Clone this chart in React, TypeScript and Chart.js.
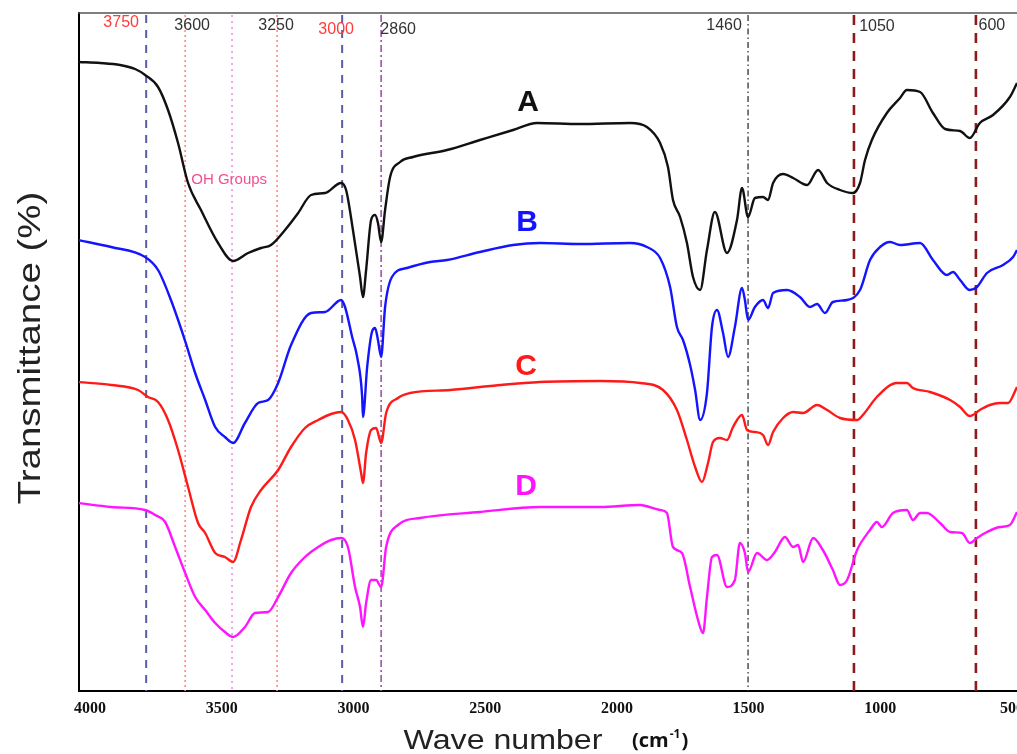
import React, { useEffect, useRef } from 'react';
import { Chart, registerables } from 'chart.js';
Chart.register(...registerables);

// ---- Data (wavenumber in cm-1, transmittance in arbitrary offset units) ----
const wnA = [4042,3962,3886,3829,3791,3742,3704,3666,3628,3579,3514,3457,3400,3351,3313,3260,3210,3161,3108,3047,3028,3002,2975,2964,2952,2933,2918,2907,2895,2880,2861,2823,2774,2645,2520,2394,2303,2140,1950,1886,1836,1806,1787,1760,1734,1711,1684,1658,1628,1582,1544,1525,1502,1476,1445,1426,1407,1369,1331,1278,1236,1202,1153,1104,1077,1058,1032,975,925,899,849,800,754,697,660,622,572,508,481];
const tA = [629,628,626,622,616,604,581,548,508,481,448,430,438,443,446,461,478,496,498,508,501,461,414,394,421,471,476,468,449,481,514,529,534,541,551,561,568,567,568,564,548,524,491,474,448,414,401,441,479,438,471,503,474,493,494,491,508,517,513,506,521,508,501,498,508,531,551,578,593,601,599,578,562,560,553,568,576,594,608];

const wnB = [4046,3920,3791,3742,3693,3639,3601,3563,3525,3488,3457,3412,3362,3324,3286,3237,3161,3108,3047,3032,3005,2986,2967,2964,2948,2930,2918,2907,2895,2880,2854,2797,2709,2645,2520,2394,2292,2140,1950,1886,1836,1798,1772,1749,1722,1703,1684,1658,1639,1620,1597,1578,1552,1525,1514,1502,1476,1445,1426,1407,1354,1305,1267,1240,1210,1180,1126,1077,1039,1001,963,925,849,800,747,724,697,660,633,595,534,496,481];
const tB = [451,444,434,421,391,350,318,291,264,254,248,268,288,291,308,346,378,379,391,384,354,334,294,274,324,359,363,351,334,384,414,423,429,431,439,446,448,447,448,444,433,404,364,351,326,301,271,298,364,381,358,334,364,403,391,371,384,391,383,398,401,394,384,387,378,389,391,401,431,444,449,446,448,431,416,419,411,401,404,418,426,434,441];

const wnC = [4046,3920,3818,3780,3742,3704,3666,3628,3590,3563,3525,3488,3457,3427,3389,3351,3286,3237,3184,3134,3085,3047,3021,2994,2971,2964,2952,2933,2914,2895,2876,2831,2785,2633,2444,2292,2064,1912,1825,1772,1734,1703,1677,1654,1635,1609,1582,1559,1525,1506,1476,1445,1426,1407,1369,1331,1293,1240,1202,1153,1088,1066,1013,937,899,876,811,735,697,660,622,584,546,515,481];
const tC = [309,306,301,294,289,271,241,204,168,158,138,134,129,151,184,201,221,244,263,271,277,279,271,251,218,208,238,261,263,248,278,293,298,301,306,309,310,308,301,281,251,224,209,228,249,253,251,264,276,261,259,256,246,259,273,279,278,286,281,273,271,276,294,308,308,303,299,291,284,275,281,286,288,288,304];

const wnD = [4046,3920,3791,3753,3715,3677,3639,3601,3563,3525,3488,3457,3412,3374,3324,3286,3237,3184,3134,3085,3047,3021,2994,2975,2964,2952,2933,2914,2895,2876,2831,2747,2520,2292,2064,1912,1836,1810,1787,1753,1722,1692,1673,1658,1639,1620,1582,1552,1533,1514,1502,1468,1430,1400,1362,1331,1312,1293,1255,1218,1180,1153,1126,1088,1039,1013,994,952,899,876,849,823,773,735,690,660,633,595,546,508,481];
const tD = [188,184,181,176,169,144,118,94,81,68,59,54,64,78,79,94,118,134,144,151,153,144,104,84,64,88,111,111,104,144,166,173,179,184,184,186,181,178,144,138,104,71,58,94,134,136,104,111,148,138,119,138,131,139,154,144,146,129,153,141,121,106,111,141,161,169,164,178,181,171,178,178,168,159,158,148,153,159,164,166,179];

const seriesNames = ['A', 'B', 'C', 'D'];
const seriesColors = ['#111111', '#1414ff', '#ff1a1a', '#ff14ff'];

const xTicks = [4000, 3500, 3000, 2500, 2000, 1500, 1000, 500];
const xRange = [481, 4042];
const yRange = [0, 678];

// reference marker lines (cm-1 position) and their labels
const markerWn = [3787, 3639, 3461, 3290, 3043, 2895, 1502, 1100, 637];
const markerLabels = ['3750', '3600', '', '3250', '3000', '2860', '1460', '1050', '600'];

const markerStyles = [
  { color: '#5a5ca8', width: 2, dash: [8, 7] },
  { color: '#ff8a8a', width: 1.6, dash: [2, 3] },
  { color: '#f08cf0', width: 1.6, dash: [2, 4] },
  { color: '#ff8a8a', width: 1.6, dash: [2, 3] },
  { color: '#5a5ca8', width: 2, dash: [8, 7] },
  { color: '#9a55a8', width: 1.6, dash: [7, 3, 2, 3] },
  { color: '#333333', width: 1.3, dash: [6, 3, 1.5, 3] },
  { color: '#8c1c1c', width: 2.6, dash: [10, 8] },
  { color: '#8c1c1c', width: 2.6, dash: [10, 8] },
];
const markerLabelLayout = [
  { dx: -25, y: 23, color: '#ff3b3b' },
  { dx: 7, y: 26, color: '#333333' },
  null,
  { dx: -1, y: 26, color: '#333333' },
  { dx: -6, y: 30, color: '#ff3b3b' },
  { dx: 17, y: 30, color: '#333333' },
  { dx: -24, y: 26, color: '#333333' },
  { dx: 23, y: 27, color: '#333333' },
  { dx: 16, y: 26, color: '#333333' },
];
const seriesLabelPos = [
  { wn: 2337, t: 588 },
  { wn: 2341, t: 468 },
  { wn: 2345, t: 324 },
  { wn: 2345, t: 204 },
];

const overlayPlugin = {
  id: 'overlay',
  beforeDatasetsDraw(chart: any) {
    const { ctx, chartArea, scales } = chart;
    const xs = scales.x;
    ctx.save();
    markerWn.forEach((wn, i) => {
      const st = markerStyles[i];
      const px = xs.getPixelForValue(wn);
      ctx.beginPath();
      ctx.strokeStyle = st.color;
      ctx.lineWidth = st.width;
      ctx.setLineDash(st.dash);
      ctx.moveTo(px, chartArea.top + 2);
      ctx.lineTo(px, chartArea.bottom);
      ctx.stroke();
    });
    ctx.setLineDash([]);
    // top frame line
    ctx.beginPath();
    ctx.strokeStyle = '#555';
    ctx.lineWidth = 1.5;
    ctx.moveTo(chartArea.left - 1, chartArea.top);
    ctx.lineTo(chart.width, chartArea.top);
    ctx.stroke();
    ctx.restore();
  },
  afterDraw(chart: any) {
    const { ctx, scales } = chart;
    const xs = scales.x;
    const ys = scales.y;
    ctx.save();
    // marker labels
    ctx.font = '16px "Liberation Sans", Arial, sans-serif';
    ctx.textAlign = 'center';
    ctx.textBaseline = 'middle';
    markerWn.forEach((wn, i) => {
      const lay = markerLabelLayout[i];
      if (!lay) return;
      ctx.fillStyle = lay.color;
      ctx.fillText(markerLabels[i], xs.getPixelForValue(wn) + lay.dx, lay.y);
    });
    // OH Groups
    ctx.fillStyle = '#f0508e';
    ctx.font = '15px "Liberation Sans", Arial, sans-serif';
    ctx.fillText('OH Groups', xs.getPixelForValue(3472), ys.getPixelForValue(511));
    // series letters
    ctx.font = 'bold 30px "Liberation Sans", Arial, sans-serif';
    seriesNames.forEach((n, i) => {
      ctx.fillStyle = seriesColors[i];
      ctx.fillText(n, xs.getPixelForValue(seriesLabelPos[i].wn), ys.getPixelForValue(seriesLabelPos[i].t));
    });
    // x title
    ctx.fillStyle = '#222';
    ctx.save();
    ctx.translate(503, 749);
    ctx.scale(1.19, 1);
    ctx.font = '27px "Liberation Sans", Arial, sans-serif';
    ctx.textBaseline = 'alphabetic';
    ctx.fillText('Wave number', 0, 0);
    ctx.restore();
    // units
    ctx.fillStyle = '#111';
    ctx.textAlign = 'left';
    ctx.textBaseline = 'alphabetic';
    ctx.font = 'bold 20px "Open Sans", "Liberation Sans", sans-serif';
    let ux = 632;
    ctx.fillText('(cm', ux, 747);
    ux += ctx.measureText('(cm').width + 1;
    ctx.font = 'bold 12px "Open Sans", "Liberation Sans", sans-serif';
    ctx.fillText('-1', ux, 738);
    ux += ctx.measureText('-1').width + 1;
    ctx.font = 'bold 20px "Open Sans", "Liberation Sans", sans-serif';
    ctx.fillText(')', ux, 747);
    // y title
    ctx.save();
    ctx.translate(31, 348);
    ctx.rotate(-Math.PI / 2);
    ctx.scale(1.24, 1);
    ctx.fillStyle = '#222';
    ctx.textAlign = 'center';
    ctx.textBaseline = 'middle';
    ctx.font = '31px "Liberation Sans", Arial, sans-serif';
    ctx.fillText('Transmittance (%)', 0, 0);
    ctx.restore();
    ctx.restore();
  },
};

export default function App() {
  const ref = useRef<HTMLCanvasElement>(null);
  useEffect(() => {
    if (!ref.current) return;
    const wns = [wnA, wnB, wnC, wnD];
    const ts = [tA, tB, tC, tD];
    const chart = new Chart(ref.current, {
      type: 'line',
      data: {
        datasets: seriesNames.map((n, i) => ({
          label: n,
          data: wns[i].map((x, j) => ({ x, y: ts[i][j] })),
          borderColor: seriesColors[i],
          backgroundColor: seriesColors[i],
          borderWidth: 2.4,
          pointRadius: 0,
          cubicInterpolationMode: 'monotone' as const,
          fill: false,
        })),
      },
      options: {
        animation: false,
        responsive: false,
        layout: { padding: { top: 13, right: 0, left: 0, bottom: 0 } },
        plugins: { legend: { display: false }, tooltip: { enabled: false } },
        scales: {
          x: {
            type: 'linear',
            reverse: true,
            min: xRange[0],
            max: xRange[1],
            grid: { display: false, drawTicks: false },
            border: { display: true, color: '#000', width: 2 },
            afterBuildTicks: (s: any) => {
              s.ticks = xTicks.map((v) => ({ value: v }));
            },
            ticks: {
              padding: 8,
              color: '#111',
              maxRotation: 0,
              autoSkip: false,
              includeBounds: false,
              font: { family: '"Liberation Serif", "Times New Roman", serif', size: 16, weight: 'bold' },
              callback: (v: any) => String(v),
            },
            afterFit: (s: any) => {
              s.height = 63;
              s.paddingLeft = 0;
              s.paddingRight = 0;
            },
          },
          y: {
            type: 'linear',
            min: yRange[0],
            max: yRange[1],
            grid: { display: false, drawTicks: false },
            border: { display: true, color: '#000', width: 2 },
            ticks: { display: false },
            afterFit: (s: any) => {
              s.width = 79;
              s.paddingTop = 0;
              s.paddingBottom = 0;
            },
          },
        },
      } as any,
      plugins: [overlayPlugin],
    });
    return () => chart.destroy();
  }, []);
  return (
    <div style={{ position: 'fixed', left: 0, top: 0, width: 1017, height: 754, background: '#fff' }}>
      <canvas ref={ref} width={1017} height={754} style={{ width: 1017, height: 754, display: 'block' }} />
    </div>
  );
}
